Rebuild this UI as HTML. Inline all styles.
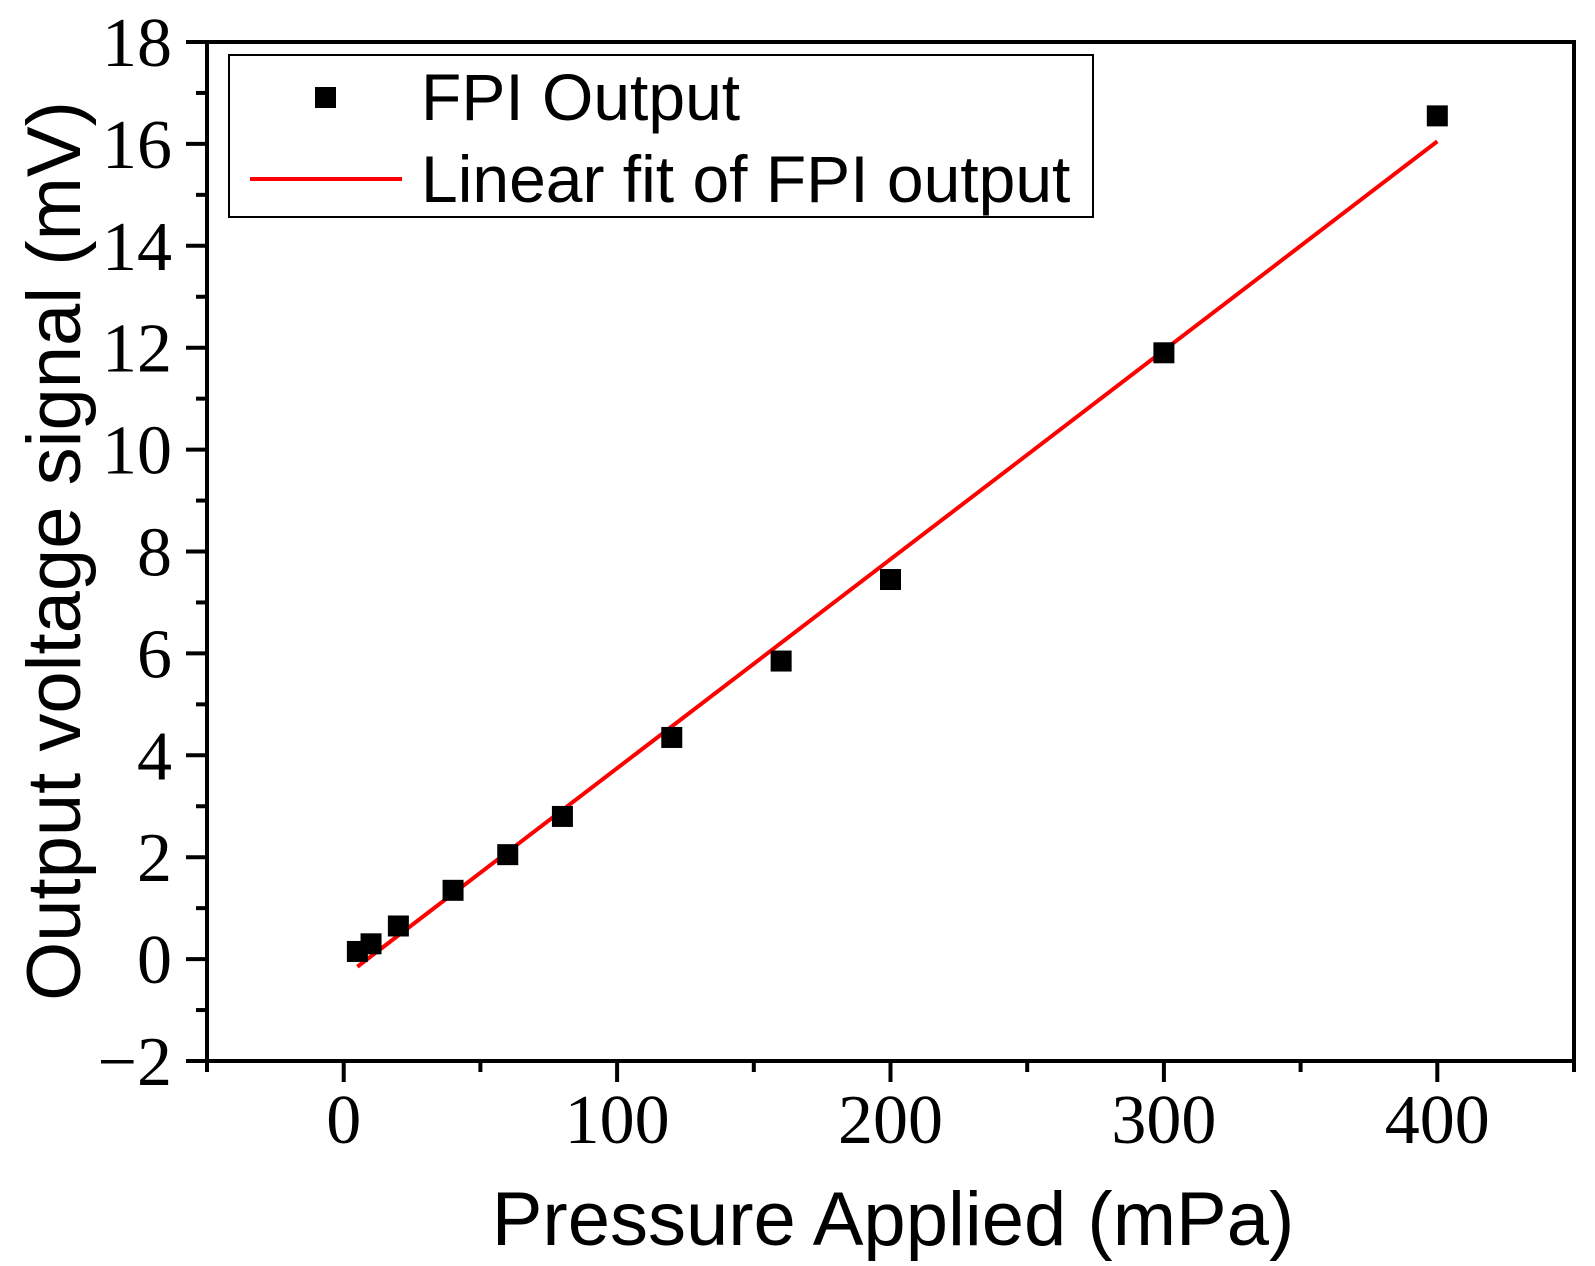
<!DOCTYPE html>
<html><head><meta charset="utf-8"><style>
html,body{margin:0;padding:0;background:#fff;}
svg{display:block;}
</style></head><body>
<svg id="chart" width="1595" height="1266" viewBox="0 0 1595 1266" xmlns="http://www.w3.org/2000/svg"></svg>
<script>
const xVals = [5, 10, 20, 40, 60, 80, 120, 160, 200, 300, 400];
const yVals = [0.15, 0.3, 0.65, 1.35, 2.05, 2.8, 4.35, 5.85, 7.45, 11.9, 16.55];
const fitX = [5, 400];
const fitY = [-0.15, 16.05];
const xTicks = [0, 100, 200, 300, 400];
const yTicks = [-2, 0, 2, 4, 6, 8, 10, 12, 14, 16, 18];

const L=207, R=1574, T=42, B=1061;
const xMin=-50, xMax=450, yMin=-2, yMax=18;
const sx = v => L + (v - xMin) / (xMax - xMin) * (R - L);
const sy = v => B - (v - yMin) / (yMax - yMin) * (B - T);
const svg = document.getElementById('chart');
const NS = 'http://www.w3.org/2000/svg';
function mk(tag, attrs, parent) {
  const e = document.createElementNS(NS, tag);
  for (const k in attrs) e.setAttribute(k, attrs[k]);
  (parent || svg).appendChild(e);
  return e;
}
const ticksG = mk('g', {stroke:'#000','stroke-width':4});


for (let v = xMin; v <= xMax; v += 50) {
  const major = xTicks.includes(v);
  mk('line', {x1:sx(v), x2:sx(v), y1:B, y2:B + (major ? 21 : 11)}, ticksG);
}
for (let v = yMin; v <= yMax; v += 1) {
  const major = yTicks.includes(v);
  mk('line', {x1:L, x2:L - (major ? 21 : 11), y1:sy(v), y2:sy(v)}, ticksG);
}
const frame = mk('rect', {x:L, y:T, width:R-L, height:B-T, fill:'none', stroke:'#000', 'stroke-width':4});


xTicks.forEach(v => {
  const t = mk('text', {x:sx(v), y:1143, 'text-anchor':'middle', 'font-family':'Liberation Serif, serif', 'font-size':70});
  t.textContent = v;
  
  
});
yTicks.forEach(v => {
  const t = mk('text', {x:172, y:sy(v) + 24, 'text-anchor':'end', 'font-family':'Liberation Serif, serif', 'font-size':70});
  t.textContent = v < 0 ? '\u2212' + Math.abs(v) : v;
  
  
});
const fit = mk('line', {x1:sx(fitX[0]), y1:sy(fitY[0]), x2:sx(fitX[1]), y2:sy(fitY[1]), stroke:'#ff0000', 'stroke-width':4});


xVals.forEach((x, i) => {
  const r = mk('rect', {x:sx(x) - 10.5, y:sy(yVals[i]) - 10.5, width:21, height:21, fill:'#000'});
  
  
});
</script>
<svg width="1595" height="1266" style="position:absolute;left:0;top:0" xmlns="http://www.w3.org/2000/svg">
  <g>
    <rect x="229" y="55" width="864" height="162" fill="#fff" stroke="#000" stroke-width="2"/>
    <rect x="315" y="87" width="21" height="21" fill="#000"/>
    <text x="421" y="120" font-family="Liberation Sans, sans-serif" font-size="66">FPI Output</text>
    <line x1="250" y1="179" x2="402" y2="179" stroke="#ff0000" stroke-width="4"/>
    <text x="421" y="202" font-family="Liberation Sans, sans-serif" font-size="66">Linear fit of FPI output</text>
  </g>
  <text x="893" y="1245" text-anchor="middle" font-family="Liberation Sans, sans-serif" font-size="76">Pressure Applied (mPa)</text>
  <text transform="translate(80,551) rotate(-90)" text-anchor="middle" font-family="Liberation Sans, sans-serif" font-size="76">Output voltage signal (mV)</text>
</svg>
</body></html>
